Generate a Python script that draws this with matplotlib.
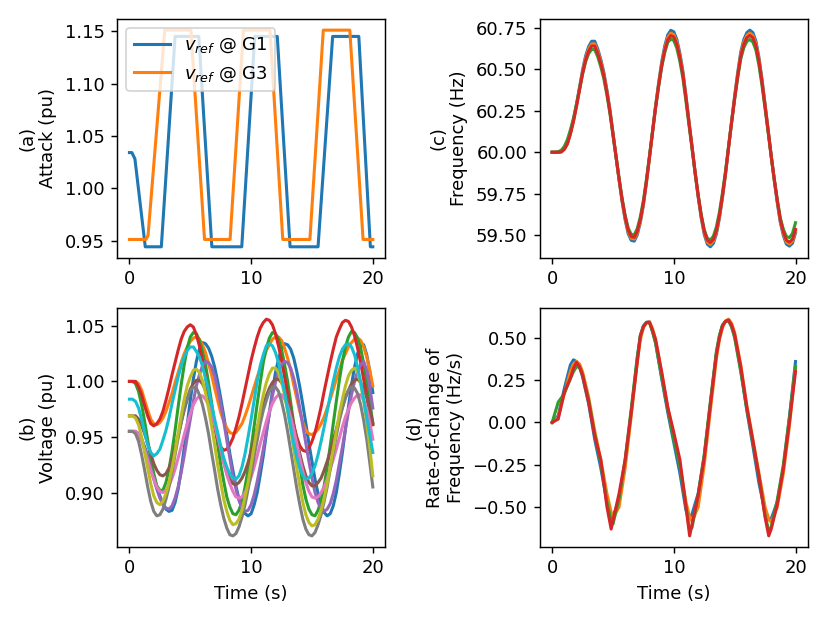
import numpy as np
import matplotlib
matplotlib.use("Agg")
import matplotlib.pyplot as plt

plt.rcParams["lines.linewidth"] = 1.7

# ---------------- panel (a): attack signals ----------------
g1_t = [0, 0.2, 0.45, 1.3, 2.62, 3.75, 5.7, 6.77, 9.23, 10.3, 12.15, 13.2, 15.5, 16.7, 18.85, 19.8, 20]
g1_v = [1.034, 1.034, 1.028, 0.944, 0.944, 1.145, 1.145, 0.944, 0.944, 1.145, 1.145, 0.944, 0.944,
        1.145, 1.145, 0.944, 0.944]
g3_t = [0, 1.36, 1.53, 2.9, 5.05, 6.17, 8.27, 9.37, 11.55, 12.6, 14.83, 15.93, 18.11, 19.2, 20]
g3_v = [0.951, 0.951, 0.955, 1.151, 1.151, 0.951, 0.951, 1.151, 1.151, 0.951, 0.951, 1.151, 1.151,
        0.951, 0.951]

# ---------------- panel (b): bus voltages (0.25 s samples, 8 per row = 2 s) ----------------
t_volt = np.linspace(0, 20, 81)
v_blue = [0.955, 0.955, 0.955, 0.953, 0.948, 0.941, 0.933, 0.924,
          0.914, 0.905, 0.897, 0.890, 0.885, 0.883, 0.884, 0.891,
          0.903, 0.920, 0.940, 0.961, 0.983, 1.002, 1.018, 1.029,
          1.035, 1.034, 1.030, 1.023, 1.013, 1.000, 0.985, 0.969,
          0.952, 0.935, 0.920, 0.906, 0.894, 0.886, 0.881, 0.879,
          0.881, 0.889, 0.900, 0.916, 0.933, 0.953, 0.972, 0.991,
          1.008, 1.020, 1.029, 1.034, 1.033, 1.029, 1.021, 1.009,
          0.995, 0.979, 0.962, 0.944, 0.928, 0.912, 0.899, 0.889,
          0.882, 0.879, 0.881, 0.888, 0.900, 0.917, 0.936, 0.957,
          0.977, 0.997, 1.013, 1.025, 1.032, 1.033, 1.024, 1.009,
          0.990]
v_orange = [1.000, 1.000, 1.000, 0.998, 0.992, 0.983, 0.974, 0.966,
            0.962, 0.961, 0.963, 0.967, 0.973, 0.981, 0.989, 0.999,
            1.008, 1.017, 1.025, 1.031, 1.036, 1.039, 1.040, 1.038,
            1.033, 1.026, 1.016, 1.006, 0.994, 0.983, 0.972, 0.964,
            0.958, 0.954, 0.953, 0.954, 0.958, 0.962, 0.969, 0.977,
            0.986, 0.995, 1.004, 1.012, 1.021, 1.028, 1.033, 1.038,
            1.040, 1.040, 1.037, 1.030, 1.021, 1.010, 0.997, 0.985,
            0.973, 0.963, 0.956, 0.953, 0.952, 0.954, 0.957, 0.962,
            0.968, 0.976, 0.984, 0.993, 1.002, 1.010, 1.019, 1.025,
            1.031, 1.035, 1.038, 1.039, 1.037, 1.031, 1.022, 1.010,
            0.996]
v_green = [1.000, 1.000, 0.998, 0.991, 0.979, 0.964, 0.947, 0.931,
           0.917, 0.906, 0.902, 0.902, 0.909, 0.921, 0.937, 0.956,
           0.977, 0.997, 1.015, 1.030, 1.040, 1.044, 1.043, 1.037,
           1.027, 1.015, 0.999, 0.981, 0.962, 0.943, 0.925, 0.910,
           0.896, 0.887, 0.881, 0.880, 0.884, 0.892, 0.905, 0.921,
           0.940, 0.960, 0.980, 0.999, 1.017, 1.030, 1.039, 1.044,
           1.043, 1.038, 1.029, 1.015, 1.000, 0.981, 0.962, 0.942,
           0.924, 0.907, 0.894, 0.885, 0.880, 0.879, 0.884, 0.893,
           0.906, 0.923, 0.942, 0.962, 0.982, 1.001, 1.018, 1.031,
           1.040, 1.045, 1.044, 1.039, 1.030, 1.016, 1.000, 0.982,
           0.962]
v_red = [1.000, 1.000, 1.000, 0.995, 0.988, 0.978, 0.969, 0.962,
         0.960, 0.962, 0.966, 0.973, 0.983, 0.994, 1.006, 1.017,
         1.028, 1.038, 1.045, 1.049, 1.051, 1.049, 1.042, 1.032,
         1.019, 1.004, 0.988, 0.973, 0.959, 0.948, 0.941, 0.938,
         0.939, 0.943, 0.949, 0.958, 0.968, 0.980, 0.993, 1.006,
         1.019, 1.030, 1.040, 1.048, 1.053, 1.056, 1.055, 1.051,
         1.043, 1.032, 1.019, 1.004, 0.989, 0.974, 0.961, 0.950,
         0.942, 0.938, 0.937, 0.940, 0.946, 0.954, 0.965, 0.977,
         0.991, 1.004, 1.017, 1.029, 1.040, 1.047, 1.053, 1.055,
         1.054, 1.049, 1.041, 1.030, 1.017, 1.002, 0.987, 0.972,
         0.961]
v_purple = [0.955, 0.955, 0.955, 0.952, 0.948, 0.940, 0.932, 0.922,
            0.912, 0.903, 0.895, 0.889, 0.886, 0.885, 0.888, 0.895,
            0.905, 0.918, 0.933, 0.950, 0.966, 0.982, 0.996, 1.006,
            1.014, 1.018, 1.017, 1.013, 1.005, 0.993, 0.980, 0.964,
            0.947, 0.931, 0.915, 0.903, 0.893, 0.886, 0.883, 0.884,
            0.889, 0.898, 0.910, 0.924, 0.939, 0.955, 0.971, 0.987,
            0.999, 1.009, 1.015, 1.018, 1.017, 1.012, 1.003, 0.991,
            0.976, 0.960, 0.944, 0.928, 0.913, 0.900, 0.891, 0.885,
            0.883, 0.885, 0.890, 0.899, 0.911, 0.926, 0.941, 0.957,
            0.973, 0.988, 1.000, 1.009, 1.015, 1.018, 1.010, 0.995,
            0.976]
v_brown = [0.969, 0.969, 0.969, 0.966, 0.960, 0.953, 0.944, 0.935,
           0.926, 0.920, 0.916, 0.915, 0.917, 0.922, 0.930, 0.940,
           0.951, 0.963, 0.974, 0.984, 0.993, 0.998, 1.001, 1.001,
           0.998, 0.992, 0.983, 0.973, 0.961, 0.950, 0.938, 0.927,
           0.918, 0.912, 0.908, 0.907, 0.909, 0.913, 0.919, 0.927,
           0.937, 0.947, 0.958, 0.968, 0.978, 0.987, 0.994, 0.999,
           1.002, 1.002, 0.999, 0.993, 0.983, 0.973, 0.960, 0.948,
           0.935, 0.924, 0.915, 0.909, 0.906, 0.906, 0.909, 0.913,
           0.920, 0.928, 0.937, 0.947, 0.957, 0.967, 0.977, 0.986,
           0.992, 0.998, 1.001, 1.002, 0.999, 0.993, 0.986, 0.975,
           0.963]
v_pink = [0.955, 0.955, 0.955, 0.952, 0.946, 0.938, 0.929, 0.920,
          0.912, 0.905, 0.901, 0.900, 0.902, 0.906, 0.913, 0.921,
          0.931, 0.941, 0.952, 0.962, 0.971, 0.979, 0.984, 0.987,
          0.987, 0.984, 0.979, 0.971, 0.961, 0.950, 0.939, 0.927,
          0.916, 0.908, 0.901, 0.896, 0.895, 0.896, 0.900, 0.906,
          0.914, 0.923, 0.933, 0.944, 0.954, 0.964, 0.973, 0.980,
          0.985, 0.988, 0.988, 0.984, 0.978, 0.968, 0.957, 0.944,
          0.931, 0.919, 0.909, 0.901, 0.896, 0.895, 0.896, 0.900,
          0.905, 0.912, 0.921, 0.930, 0.939, 0.949, 0.959, 0.968,
          0.975, 0.981, 0.985, 0.988, 0.988, 0.983, 0.975, 0.963,
          0.948]
v_gray = [0.955, 0.955, 0.953, 0.946, 0.934, 0.920, 0.905, 0.892,
          0.883, 0.879, 0.880, 0.885, 0.894, 0.905, 0.919, 0.934,
          0.949, 0.963, 0.976, 0.985, 0.992, 0.995, 0.994, 0.988,
          0.979, 0.967, 0.953, 0.936, 0.920, 0.903, 0.889, 0.877,
          0.868, 0.862, 0.861, 0.863, 0.869, 0.878, 0.889, 0.903,
          0.917, 0.933, 0.947, 0.962, 0.974, 0.983, 0.991, 0.995,
          0.995, 0.991, 0.982, 0.970, 0.955, 0.938, 0.921, 0.904,
          0.889, 0.876, 0.867, 0.862, 0.861, 0.864, 0.871, 0.880,
          0.892, 0.905, 0.921, 0.936, 0.951, 0.965, 0.976, 0.985,
          0.992, 0.995, 0.994, 0.989, 0.979, 0.965, 0.948, 0.927,
          0.905]
v_olive = [0.969, 0.969, 0.967, 0.961, 0.950, 0.936, 0.922, 0.908,
           0.897, 0.891, 0.889, 0.892, 0.899, 0.909, 0.922, 0.937,
           0.953, 0.969, 0.984, 0.996, 1.004, 1.010, 1.011, 1.008,
           1.001, 0.990, 0.976, 0.960, 0.943, 0.925, 0.909, 0.894,
           0.883, 0.875, 0.871, 0.872, 0.876, 0.884, 0.896, 0.909,
           0.925, 0.942, 0.958, 0.974, 0.988, 0.999, 1.007, 1.012,
           1.012, 1.008, 1.000, 0.988, 0.973, 0.957, 0.939, 0.922,
           0.906, 0.891, 0.880, 0.873, 0.870, 0.871, 0.876, 0.884,
           0.895, 0.908, 0.923, 0.939, 0.955, 0.971, 0.984, 0.996,
           1.005, 1.010, 1.012, 1.009, 0.998, 0.983, 0.963, 0.941,
           0.915]
v_cyan = [0.984, 0.984, 0.982, 0.976, 0.966, 0.954, 0.943, 0.936,
          0.933, 0.935, 0.939, 0.947, 0.956, 0.967, 0.980, 0.992,
          1.004, 1.014, 1.022, 1.028, 1.031, 1.031, 1.027, 1.022,
          1.014, 1.003, 0.992, 0.979, 0.966, 0.954, 0.942, 0.931,
          0.923, 0.917, 0.913, 0.912, 0.915, 0.923, 0.935, 0.950,
          0.966, 0.983, 1.000, 1.014, 1.024, 1.032, 1.034, 1.032,
          1.026, 1.017, 1.004, 0.990, 0.975, 0.959, 0.944, 0.932,
          0.922, 0.915, 0.912, 0.913, 0.917, 0.924, 0.934, 0.946,
          0.959, 0.973, 0.987, 1.000, 1.012, 1.022, 1.029, 1.033,
          1.034, 1.031, 1.024, 1.013, 1.000, 0.984, 0.968, 0.952,
          0.936]
voltages = [v_blue, v_orange, v_green, v_red, v_purple, v_brown, v_pink, v_gray, v_olive, v_cyan]

# ---------------- panel (c): frequency (0.25 s samples) ----------------
t_freq = np.linspace(0, 20, 81)
f_blue = [60.000, 60.000, 60.000, 60.002, 60.019, 60.052, 60.115, 60.193, 60.287, 60.392,
          60.496, 60.580, 60.637, 60.669, 60.669, 60.622, 60.559, 60.481, 60.376, 60.256,
          60.115, 59.974, 59.833, 59.702, 59.592, 59.509, 59.469, 59.464, 59.503, 59.577,
          59.681, 59.817, 59.969, 60.125, 60.280, 60.418, 60.543, 60.640, 60.707, 60.735,
          60.726, 60.679, 60.596, 60.486, 60.340, 60.183, 60.031, 59.875, 59.730, 59.603,
          59.504, 59.446, 59.430, 59.451, 59.507, 59.603, 59.728, 59.869, 60.031, 60.188,
          60.340, 60.481, 60.604, 60.679, 60.721, 60.736, 60.721, 60.669, 60.570, 60.439,
          60.288, 60.136, 59.979, 59.833, 59.697, 59.577, 59.498, 59.446, 59.434, 59.451,
          59.514]
f_orange = [60.000, 60.000, 60.000, 60.002, 60.018, 60.051, 60.112, 60.189, 60.281, 60.383,
            60.485, 60.566, 60.622, 60.653, 60.653, 60.607, 60.546, 60.469, 60.367, 60.250,
            60.112, 59.975, 59.837, 59.709, 59.602, 59.521, 59.482, 59.477, 59.514, 59.587,
            59.689, 59.822, 59.969, 60.122, 60.273, 60.408, 60.530, 60.624, 60.691, 60.717,
            60.709, 60.663, 60.581, 60.474, 60.332, 60.179, 60.031, 59.878, 59.737, 59.612,
            59.516, 59.459, 59.444, 59.465, 59.519, 59.612, 59.735, 59.873, 60.031, 60.184,
            60.332, 60.469, 60.590, 60.663, 60.704, 60.718, 60.704, 60.653, 60.556, 60.428,
            60.282, 60.133, 59.980, 59.837, 59.704, 59.587, 59.510, 59.459, 59.447, 59.465,
            59.526]
f_green = [60.000, 60.000, 60.003, 60.012, 60.035, 60.075, 60.135, 60.205, 60.290, 60.380,
           60.470, 60.545, 60.595, 60.620, 60.618, 60.575, 60.515, 60.442, 60.345, 60.233,
           60.102, 59.972, 59.843, 59.722, 59.620, 59.543, 59.505, 59.502, 59.540, 59.612,
           59.710, 59.836, 59.980, 60.126, 60.269, 60.396, 60.512, 60.600, 60.662, 60.683,
           60.673, 60.627, 60.547, 60.444, 60.307, 60.162, 60.020, 59.874, 59.741, 59.624,
           59.533, 59.482, 59.470, 59.494, 59.550, 59.640, 59.757, 59.888, 60.036, 60.182,
           60.321, 60.449, 60.562, 60.630, 60.668, 60.680, 60.664, 60.615, 60.522, 60.400,
           60.262, 60.120, 59.975, 59.840, 59.715, 59.605, 59.535, 59.492, 59.485, 59.510,
           59.575]
f_red = [60.000, 60.000, 60.000, 60.002, 60.018, 60.050, 60.110, 60.185, 60.275, 60.375,
         60.475, 60.555, 60.610, 60.640, 60.640, 60.595, 60.535, 60.460, 60.360, 60.245,
         60.110, 59.975, 59.840, 59.715, 59.610, 59.530, 59.492, 59.487, 59.524, 59.595,
         59.695, 59.825, 59.970, 60.120, 60.268, 60.400, 60.520, 60.612, 60.677, 60.703,
         60.695, 60.650, 60.570, 60.465, 60.325, 60.175, 60.030, 59.880, 59.742, 59.620,
         59.525, 59.470, 59.455, 59.475, 59.528, 59.620, 59.740, 59.875, 60.030, 60.180,
         60.325, 60.460, 60.578, 60.650, 60.690, 60.704, 60.690, 60.640, 60.545, 60.420,
         60.276, 60.130, 59.980, 59.840, 59.710, 59.595, 59.520, 59.470, 59.458, 59.475,
         59.535]
freqs = [f_blue, f_orange, f_green, f_red]

# ---------------- panel (d): rate of change of frequency ----------------
t_rocof = [0, 0.5, 1, 1.5, 1.75, 2, 2.25, 2.5, 3, 3.5, 4, 4.5, 4.85, 5, 5.5, 6, 6.5, 7, 7.25, 7.5, 7.75,
           8, 8.25, 8.5, 9, 9.5, 10, 10.5, 11, 11.3, 11.5, 12, 12.5, 13, 13.5, 13.75, 14, 14.25, 14.5,
           14.75, 15, 15.5, 16, 16.5, 17, 17.5, 17.8, 18, 18.5, 19, 19.5, 20]
r_blue = [0.000, 0.040, 0.200, 0.340, 0.370, 0.360, 0.330, 0.270, 0.110, -0.100, -0.270, -0.470, -0.540,
          -0.555, -0.460, -0.240, 0.060, 0.380, 0.510, 0.570, 0.592, 0.595, 0.540, 0.470, 0.260, 0.060,
          -0.120, -0.300, -0.520, -0.560, -0.540, -0.420, -0.200, 0.110, 0.410, 0.510, 0.575, 0.598,
          0.605, 0.565, 0.510, 0.310, 0.070, -0.140, -0.360, -0.530, -0.575, -0.570, -0.470, -0.270,
          0.030, 0.360]
r_orange = [0.000, 0.030, 0.170, 0.300, 0.345, 0.360, 0.345, 0.300, 0.150, -0.050, -0.220, -0.420, -0.530,
            -0.560, -0.500, -0.270, 0.040, 0.360, 0.490, 0.560, 0.590, 0.595, 0.555, 0.490, 0.290, 0.090,
            -0.080, -0.250, -0.470, -0.560, -0.585, -0.500, -0.250, 0.070, 0.380, 0.490, 0.560, 0.600,
            0.610, 0.585, 0.530, 0.340, 0.100, -0.100, -0.300, -0.500, -0.570, -0.590, -0.500, -0.300,
            -0.020, 0.330]
r_green = [0.000, 0.120, 0.170, 0.260, 0.300, 0.330, 0.325, 0.280, 0.130, -0.070, -0.240, -0.470, -0.580,
           -0.600, -0.450, -0.220, 0.080, 0.390, 0.515, 0.570, 0.590, 0.590, 0.535, 0.470, 0.270, 0.080,
           -0.100, -0.250, -0.500, -0.640, -0.620, -0.430, -0.190, 0.120, 0.420, 0.515, 0.575, 0.596,
           0.600, 0.565, 0.500, 0.300, 0.080, -0.120, -0.320, -0.550, -0.640, -0.620, -0.460, -0.250,
           0.030, 0.330]
r_red = [0.000, 0.020, 0.180, 0.260, 0.320, 0.355, 0.330, 0.280, 0.120, -0.080, -0.220, -0.497, -0.630,
         -0.580, -0.420, -0.220, 0.060, 0.360, 0.510, 0.565, 0.590, 0.590, 0.545, 0.490, 0.300, 0.090,
         -0.060, -0.220, -0.500, -0.670, -0.600, -0.430, -0.210, 0.100, 0.400, 0.500, 0.570, 0.598,
         0.605, 0.575, 0.520, 0.330, 0.090, -0.110, -0.320, -0.560, -0.670, -0.630, -0.485, -0.275,
         0.000, 0.300]
rocofs = [r_blue, r_orange, r_green, r_red]

# ---------------- figure ----------------
fig, axs = plt.subplots(2, 2, figsize=(830 / 130, 623 / 130), dpi=130)
fig.subplots_adjust(left=0.1413, right=0.9731, top=0.969, bottom=0.1225, wspace=0.579, hspace=0.213)

ax = axs[0, 0]
ax.plot(g1_t, g1_v, color="C0", label=r"$v_{ref}$ @ G1")
ax.plot(g3_t, g3_v, color="C1", label=r"$v_{ref}$ @ G3")
ax.set_ylabel("(a)\nAttack (pu)")
ax.set_yticks([0.95, 1.00, 1.05, 1.10, 1.15])
ax.legend(loc="upper left")

ax = axs[1, 0]
for i, v in enumerate(voltages):
    ax.plot(t_volt, v, color=f"C{i}")
ax.set_ylabel("(b)\nVoltage (pu)")
ax.set_xlabel("Time (s)")
ax.set_yticks([0.90, 0.95, 1.00, 1.05])

ax = axs[0, 1]
for i, f in enumerate(freqs):
    ax.plot(t_freq, f, color=f"C{i}")
ax.set_ylabel("(c)\nFrequency (Hz)")
ax.set_yticks([59.50, 59.75, 60.00, 60.25, 60.50, 60.75])

ax = axs[1, 1]
for i, r in enumerate(rocofs):
    ax.plot(t_rocof, r, color=f"C{i}")
ax.set_ylabel("(d)\nRate-of-change of\nFrequency (Hz/s)")
ax.set_xlabel("Time (s)")
ax.set_yticks([-0.50, -0.25, 0.00, 0.25, 0.50])

for ax in axs.flat:
    ax.set_xticks([0, 10, 20])

fig.savefig("out.png", dpi=130)
